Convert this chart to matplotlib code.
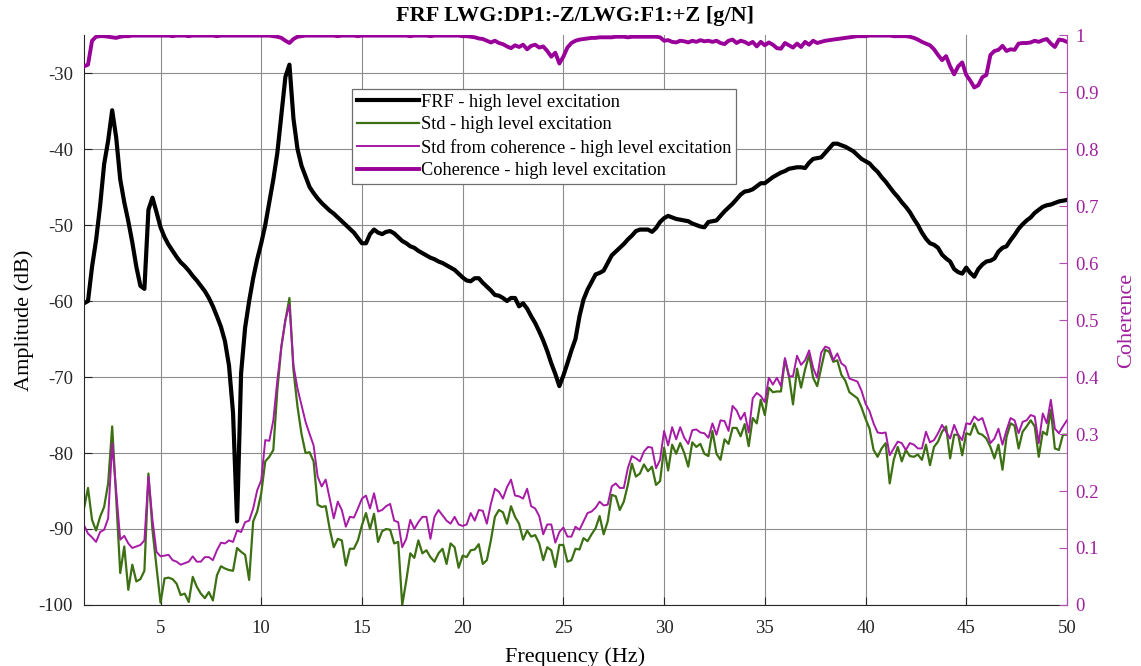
"""FRF with std and coherence, high level excitation (LWG:DP1:-Z / LWG:F1:+Z)."""

import matplotlib

matplotlib.use("Agg")
import matplotlib.pyplot as plt
import numpy as np

# frequency grid of the measurement, 0.2 Hz resolution
F_START, F_STOP, F_STEP = 1.2, 50.0, 0.2

# FRF amplitude (dB), one row = 2 Hz
frf_db = [
    -60.3, -60.0, -55.5, -52.0, -47.5, -42.0, -38.9, -34.9, -38.5, -44.0,
    -47.0, -49.5, -52.3, -55.5, -58.0, -58.4, -48.0, -46.4, -48.3, -50.3,
    -51.6, -52.6, -53.4, -54.2, -54.9, -55.4, -56.0, -56.7, -57.3, -58.0,
    -58.7, -59.6, -60.7, -62.0, -63.4, -65.3, -68.5, -74.7, -89.0, -69.5,
    -63.5, -60.0, -57.0, -54.5, -52.4, -50.0, -47.0, -44.0, -40.5, -35.5,
    -30.5, -28.9, -36.0, -40.0, -42.2, -43.6, -45.0, -45.8, -46.5, -47.1,
    -47.6, -48.1, -48.5, -49.0, -49.5, -50.0, -50.5, -51.0, -51.7, -52.4,
    -52.4, -51.2, -50.6, -51.0, -51.2, -50.9, -50.8, -51.1, -51.6, -52.1,
    -52.4, -52.8, -53.0, -53.4, -53.7, -54.0, -54.3, -54.5, -54.8, -55.0,
    -55.3, -55.6, -55.9, -56.4, -56.9, -57.3, -57.4, -57.0, -57.0, -57.6,
    -58.1, -58.6, -59.2, -59.3, -59.6, -60.0, -59.6, -59.6, -60.7, -60.3,
    -61.0, -62.0, -62.9, -64.0, -65.2, -66.6, -68.2, -69.6, -71.2, -69.8,
    -68.2, -66.5, -65.0, -62.0, -59.8, -58.5, -57.5, -56.5, -56.3, -56.0,
    -55.0, -54.0, -53.5, -53.0, -52.5, -51.9, -51.4, -50.8, -50.6, -50.6,
    -50.6, -50.9, -50.4, -49.6, -49.1, -48.8, -49.0, -49.2, -49.3, -49.4,
    -49.5, -49.8, -50.0, -50.2, -50.3, -49.6, -49.5, -49.4, -48.8, -48.2,
    -47.7, -47.2, -46.6, -46.0, -45.6, -45.5, -45.3, -44.9, -44.5, -44.5,
    -44.1, -43.7, -43.4, -43.1, -42.9, -42.6, -42.5, -42.4, -42.4, -42.5,
    -41.8, -41.3, -41.2, -41.1, -40.5, -39.9, -39.3, -39.3, -39.5, -39.7,
    -40.0, -40.3, -40.8, -41.3, -41.6, -41.9, -42.5, -43.0, -43.7, -44.3,
    -45.0, -45.7, -46.3, -47.0, -47.6, -48.3, -49.2, -50.0, -51.0, -51.8,
    -52.4, -52.6, -53.0, -53.9, -54.4, -54.8, -55.8, -56.2, -56.4, -55.6,
    -56.3, -56.8, -55.8, -55.2, -54.8, -54.7, -54.4, -53.5, -53.0, -52.8,
    -52.0, -51.3, -50.5, -49.9, -49.4, -49.0, -48.4, -48.0, -47.6, -47.4,
    -47.3, -47.1, -46.9, -46.8, -46.7,
]

# Std (dB)
std_db = [
    -87.3, -84.6, -88.8, -90.2, -88.4, -87.1, -84.0, -76.5, -86.0, -95.8,
    -92.3, -98.0, -94.7, -96.9, -96.6, -95.5, -82.7, -90.1, -95.0, -99.7,
    -96.5, -96.4, -96.6, -97.2, -98.7, -98.5, -99.6, -96.3, -97.6, -98.5,
    -99.1, -98.3, -99.4, -96.1, -94.9, -95.2, -95.4, -95.5, -92.5, -93.0,
    -93.4, -96.7, -89.0, -87.7, -85.3, -81.1, -80.5, -79.6, -71.7, -66.0,
    -62.5, -59.6, -69.1, -73.9, -77.5, -80.0, -79.9, -81.1, -86.8, -87.1,
    -87.0, -90.0, -92.4, -91.3, -91.5, -94.8, -92.6, -92.6, -91.5, -89.5,
    -87.9, -90.0, -88.0, -91.7, -90.3, -90.0, -90.1, -91.9, -91.7, -100.0,
    -96.8, -93.2, -93.8, -91.5, -93.2, -92.8, -93.7, -94.3, -93.2, -92.6,
    -94.6, -91.9, -92.4, -95.1, -93.5, -93.7, -92.8, -92.7, -92.0, -94.6,
    -94.1, -91.5, -88.4, -87.5, -87.8, -89.3, -87.0, -88.4, -89.3, -91.4,
    -90.2, -91.0, -90.8, -91.9, -94.1, -92.4, -92.8, -95.0, -92.1, -92.1,
    -94.3, -94.1, -92.6, -92.7, -91.2, -91.6, -90.7, -89.9, -88.3, -90.7,
    -89.0, -85.5, -85.7, -87.5, -86.4, -84.2, -81.4, -83.1, -82.7, -81.5,
    -82.4, -81.8, -84.2, -83.7, -79.3, -82.3, -78.9, -80.1, -78.7, -80.0,
    -81.8, -78.6, -79.2, -78.8, -80.1, -80.4, -77.1, -80.1, -80.9, -78.2,
    -78.8, -76.7, -76.7, -77.8, -76.2, -79.1, -75.4, -76.1, -73.0, -75.0,
    -71.4, -72.0, -71.9, -71.9, -67.7, -69.9, -73.6, -68.9, -71.4, -69.0,
    -67.1, -70.1, -71.2, -68.8, -66.4, -66.7, -68.0, -67.8, -69.7, -70.5,
    -72.0, -72.4, -72.8, -74.0, -75.5, -76.8, -79.6, -80.5, -79.4, -78.7,
    -84.0, -80.9, -79.2, -81.1, -79.6, -80.4, -80.5, -80.2, -80.9, -78.9,
    -81.6, -79.2, -78.5, -77.2, -76.5, -80.7, -77.6, -77.6, -80.3, -77.4,
    -77.6, -76.1, -77.4, -77.6, -78.1, -79.2, -80.7, -78.9, -82.2, -77.9,
    -76.1, -76.4, -79.4, -77.2, -76.5, -75.7, -76.5, -80.5, -77.2, -77.6,
    -74.3, -79.4, -79.6, -77.6, -77.6,
]

# Std derived from coherence (dB)
std_coh_db = [
    -89.5, -90.6, -91.1, -91.7, -90.4, -90.1, -88.6, -78.7, -85.0, -91.4,
    -90.9, -91.9, -92.5, -92.3, -92.1, -91.5, -83.1, -88.8, -93.0, -93.6,
    -93.5, -93.4, -94.1, -94.3, -94.7, -94.5, -94.3, -93.6, -94.3, -94.3,
    -93.7, -93.7, -94.1, -92.8, -91.8, -91.9, -91.5, -91.7, -90.2, -90.4,
    -89.1, -88.9, -87.3, -84.9, -83.6, -78.3, -78.4, -75.7, -70.4, -66.0,
    -62.5, -60.5, -68.5, -71.5, -73.7, -75.9, -77.5, -79.0, -83.1, -84.4,
    -83.5, -86.0, -88.6, -86.4, -87.5, -89.7, -88.4, -88.5, -87.3, -86.0,
    -85.6, -87.3, -85.3, -87.7, -87.5, -87.0, -86.7, -88.9, -89.1, -92.4,
    -91.3, -88.8, -90.0, -89.1, -88.4, -88.4, -91.3, -88.4, -87.5, -88.2,
    -88.9, -89.3, -88.4, -89.4, -89.6, -89.4, -87.9, -88.9, -87.5, -87.6,
    -89.3, -86.7, -84.7, -85.1, -86.0, -84.5, -83.5, -85.6, -85.7, -86.0,
    -84.7, -87.0, -87.3, -88.3, -90.7, -89.4, -89.4, -91.8, -90.4, -89.8,
    -91.0, -91.0, -89.7, -90.1, -89.0, -87.9, -87.7, -87.2, -86.4, -86.9,
    -86.8, -84.4, -84.0, -84.6, -84.6, -82.0, -80.4, -80.7, -81.1, -79.8,
    -79.2, -79.3, -82.0, -80.9, -77.1, -79.0, -76.6, -78.2, -76.6, -78.0,
    -78.8, -77.0, -76.9, -77.3, -77.4, -78.0, -76.1, -77.6, -75.7, -75.8,
    -77.1, -73.8, -74.4, -75.6, -74.7, -77.3, -72.8, -72.1, -72.5, -73.3,
    -70.1, -71.0, -70.1, -71.2, -67.5, -69.9, -69.9, -67.2, -68.4, -67.8,
    -66.5, -68.8, -70.1, -66.8, -66.0, -66.2, -67.8, -66.9, -68.2, -68.6,
    -70.2, -70.4, -70.6, -71.8, -73.5, -74.5, -76.1, -77.3, -77.4, -77.3,
    -80.3, -79.4, -78.5, -78.7, -79.6, -78.7, -78.9, -79.4, -79.4, -77.2,
    -78.6, -78.3, -77.4, -76.3, -77.2, -78.1, -76.3, -77.6, -78.3, -76.1,
    -76.2, -75.2, -75.7, -75.4, -77.0, -78.7, -78.1, -76.8, -78.9, -77.0,
    -75.4, -75.7, -77.4, -75.9, -75.7, -75.0, -75.2, -78.7, -74.8, -76.1,
    -73.0, -76.8, -77.4, -76.5, -75.7,
]

# coherence (-)
coherence = [
    0.945, 0.948, 0.990, 0.997, 0.998, 0.998, 0.997, 0.996, 0.995, 0.997,
    0.998, 0.998, 0.999, 0.999, 0.999, 0.999, 0.999, 0.999, 0.999, 0.999,
    0.999, 0.999, 0.998, 0.999, 0.999, 0.999, 0.998, 0.999, 0.999, 0.999,
    0.999, 0.999, 0.999, 0.998, 0.999, 0.999, 0.999, 0.999, 0.999, 0.999,
    0.999, 0.999, 0.999, 0.999, 0.999, 0.999, 0.999, 0.998, 0.997, 0.995,
    0.990, 0.986, 0.993, 0.997, 0.998, 0.999, 0.999, 0.999, 0.999, 0.999,
    0.999, 0.999, 0.999, 0.998, 0.999, 0.999, 0.999, 0.999, 0.998, 0.999,
    0.999, 0.999, 0.999, 0.999, 0.999, 0.999, 0.999, 0.999, 0.999, 0.999,
    0.999, 0.998, 0.999, 0.999, 0.999, 0.999, 0.998, 0.999, 0.999, 0.999,
    0.999, 0.999, 0.999, 0.999, 0.998, 0.998, 0.997, 0.996, 0.994, 0.993,
    0.990, 0.987, 0.990, 0.986, 0.984, 0.980, 0.977, 0.982, 0.979, 0.983,
    0.975, 0.981, 0.983, 0.978, 0.980, 0.972, 0.962, 0.969, 0.950, 0.962,
    0.978, 0.986, 0.990, 0.992, 0.993, 0.994, 0.995, 0.995, 0.996, 0.996,
    0.996, 0.996, 0.997, 0.997, 0.997, 0.996, 0.997, 0.997, 0.997, 0.997,
    0.997, 0.997, 0.997, 0.996, 0.990, 0.991, 0.988, 0.987, 0.990, 0.989,
    0.987, 0.990, 0.988, 0.991, 0.989, 0.990, 0.988, 0.990, 0.986, 0.984,
    0.990, 0.992, 0.986, 0.990, 0.988, 0.984, 0.988, 0.980, 0.988, 0.982,
    0.987, 0.983, 0.977, 0.976, 0.986, 0.982, 0.978, 0.985, 0.979, 0.988,
    0.983, 0.990, 0.986, 0.988, 0.990, 0.991, 0.992, 0.993, 0.994, 0.995,
    0.996, 0.997, 0.998, 0.998, 0.998, 0.999, 0.999, 0.999, 0.999, 0.999,
    0.999, 0.998, 0.998, 0.998, 0.998, 0.997, 0.995, 0.992, 0.988, 0.985,
    0.982, 0.975, 0.965, 0.956, 0.963, 0.945, 0.931, 0.945, 0.952, 0.930,
    0.920, 0.908, 0.912, 0.926, 0.930, 0.965, 0.972, 0.974, 0.981, 0.972,
    0.975, 0.974, 0.985, 0.986, 0.986, 0.987, 0.990, 0.988, 0.991, 0.993,
    0.985, 0.979, 0.992, 0.991, 0.988,
]

x_ticks = [5, 10, 15, 20, 25, 30, 35, 40, 45, 50]
db_ticks = [-100, -90, -80, -70, -60, -50, -40, -30]
coh_ticks = [0, 0.1, 0.2, 0.3, 0.4, 0.5, 0.6, 0.7, 0.8, 0.9, 1]
coh_tick_labels = ["0", "0.1", "0.2", "0.3", "0.4", "0.5", "0.6", "0.7", "0.8", "0.9", "1"]

BLACK = "#000000"
GREEN = "#3c7012"
MAGENTA = "#a61aa6"
PURPLE = "#990099"
AXIS_MAGENTA = "#b34db3"
LABEL_MAGENTA = "#a020a0"


def main() -> None:
    plt.rcParams["font.family"] = ["Liberation Serif", "DejaVu Serif"]
    plt.rcParams["axes.unicode_minus"] = False

    freq = np.round(np.arange(F_START, F_STOP + F_STEP / 2, F_STEP), 1)

    fig = plt.figure(figsize=(11.41, 6.66), dpi=100)
    ax = fig.add_axes([0.0736, 0.0916, 0.8615, 0.8558])
    ax2 = ax.twinx()

    h_std, = ax.plot(freq, std_db, color=GREEN, lw=1.6)
    h_stdc, = ax.plot(freq, std_coh_db, color=MAGENTA, lw=1.4)
    h_frf, = ax.plot(freq, frf_db, color=BLACK, lw=3.0)
    h_coh, = ax2.plot(freq, coherence, color=PURPLE, lw=2.8)

    ax.set_xlim(F_START, F_STOP)
    ax.set_ylim(-100, -25)
    ax2.set_ylim(0, 1)

    ax.set_xticks(x_ticks)
    ax.set_yticks(db_ticks)
    ax2.set_yticks(coh_ticks)
    ax2.set_yticklabels(coh_tick_labels)

    ax.grid(True, color="#8c8c8c", lw=0.8)
    ax.set_axisbelow(True)

    for a in (ax, ax2):
        a.spines["top"].set_visible(False)
    ax.spines["right"].set_visible(False)
    ax.spines["left"].set_color("#262626")
    ax.spines["bottom"].set_color("#262626")
    ax2.spines["left"].set_visible(False)
    ax2.spines["bottom"].set_visible(False)
    ax2.spines["right"].set_color(AXIS_MAGENTA)

    ax.tick_params(axis="x", direction="in", length=6, labelsize=13.5,
                   colors="#262626", pad=11)
    ax.tick_params(axis="y", direction="in", length=6, labelsize=13.5,
                   colors="#262626", pad=8)
    ax2.tick_params(axis="y", direction="in", length=6, labelsize=13.5,
                    color=AXIS_MAGENTA, labelcolor=LABEL_MAGENTA, pad=6)

    ax.set_title("FRF LWG:DP1:-Z/LWG:F1:+Z [g/N]", fontsize=16,
                 fontweight="bold", pad=10)
    ax.set_xlabel("Frequency (Hz)", fontsize=16, labelpad=7)
    ax.set_ylabel("Amplitude (dB)", fontsize=16, labelpad=3)
    ax2.set_ylabel("Coherence", fontsize=16, color=LABEL_MAGENTA, labelpad=13)

    leg = ax2.legend(
        [h_frf, h_std, h_stdc, h_coh],
        [
            "FRF - high level excitation",
            "Std - high level excitation",
            "Std from coherence - high level excitation",
            "Coherence - high level excitation",
        ],
        loc="upper left",
        bbox_to_anchor=(0.273, 0.905),
        borderaxespad=0,
        fontsize=13.2,
        handlelength=3.4,
        handletextpad=0.1,
        labelspacing=0.3,
        borderpad=0.25,
        fancybox=False,
        framealpha=1,
        edgecolor="#6e6e6e",
    )
    leg.get_frame().set_linewidth(0.9)

    fig.savefig("out.png", dpi=100)
    plt.close(fig)


if __name__ == "__main__":
    main()
